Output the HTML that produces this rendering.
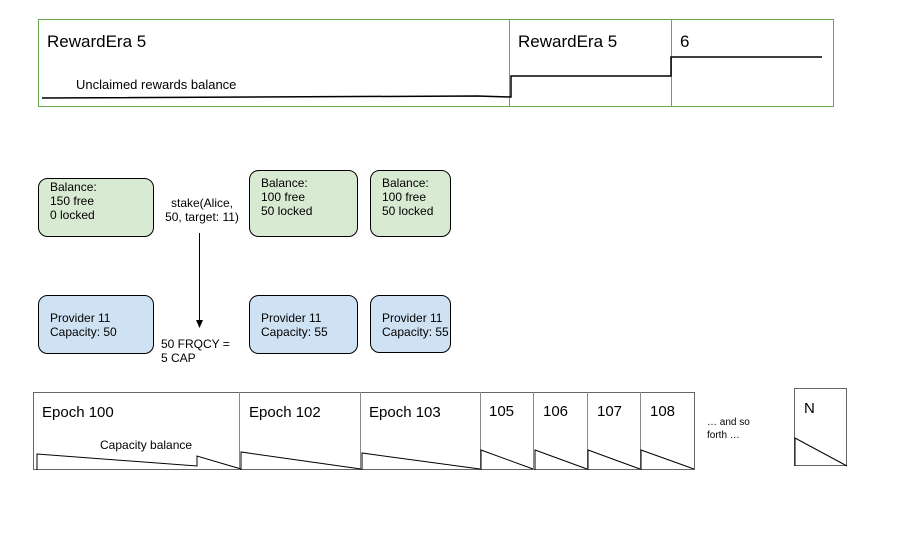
<!DOCTYPE html>
<html><head><meta charset="utf-8"><style>
body{margin:0;background:#fff;width:923px;height:543px;overflow:hidden}
svg text{font-family:"Liberation Sans",Arial,sans-serif;fill:#000}
</style></head><body>
<svg width="923" height="543" xmlns="http://www.w3.org/2000/svg">
<rect x="38.5" y="19.5" width="795" height="87" fill="#fff" stroke="#6aa84f" stroke-width="1"/>
<line x1="509.5" y1="19" x2="509.5" y2="106" stroke="#6aa84f"/>
<line x1="671.5" y1="19" x2="671.5" y2="106" stroke="#6aa84f"/>
<text x="47" y="47" font-size="17">RewardEra 5</text>
<text x="518" y="47" font-size="17">RewardEra 5</text>
<text x="680" y="47" font-size="17">6</text>
<text x="76" y="89" font-size="13">Unclaimed rewards balance</text>
<polyline points="42,98 477,96 511,97 511,76 671,76 671,57 822,57" fill="none" stroke="#000" stroke-width="1.5"/>
<g stroke="#000" stroke-width="1">
<rect x="38.5" y="178.5" width="115" height="58" rx="9" fill="#d9ead3"/>
<rect x="249.5" y="170.5" width="108" height="66" rx="9" fill="#d9ead3"/>
<rect x="370.5" y="170.5" width="80" height="66" rx="9" fill="#d9ead3"/>
<rect x="38.5" y="295.5" width="115" height="58" rx="9" fill="#cfe2f3"/>
<rect x="249.5" y="295.5" width="108" height="58" rx="9" fill="#cfe2f3"/>
<rect x="370.5" y="295.5" width="80" height="57" rx="9" fill="#cfe2f3"/>
</g>
<g font-size="12">
<text x="50" y="191">Balance:</text><text x="50" y="205">150 free</text><text x="50" y="219">0 locked</text>
<text x="261" y="187">Balance:</text><text x="261" y="201">100 free</text><text x="261" y="215">50 locked</text>
<text x="382" y="187">Balance:</text><text x="382" y="201">100 free</text><text x="382" y="215">50 locked</text>
<text x="50" y="322">Provider 11</text><text x="50" y="336">Capacity: 50</text>
<text x="261" y="322">Provider 11</text><text x="261" y="336">Capacity: 55</text>
<text x="382" y="322">Provider 11</text><text x="382" y="336">Capacity: 55</text>
<text x="202" y="207" text-anchor="middle">stake(Alice,</text>
<text x="202" y="221" text-anchor="middle">50, target: 11)</text>
<text x="161" y="348">50 FRQCY =</text><text x="161" y="362">5 CAP</text>
</g>
<line x1="199.5" y1="233" x2="199.5" y2="321" stroke="#000" stroke-width="1"/>
<path d="M196,320 L203,320 L199.5,328 z" fill="#000"/>
<rect x="33.5" y="392.5" width="661" height="77" fill="#fff" stroke="#666" stroke-width="1"/>
<g stroke="#888"><line x1="239.5" y1="392" x2="239.5" y2="470"/><line x1="360.5" y1="392" x2="360.5" y2="470"/><line x1="480.5" y1="392" x2="480.5" y2="470"/><line x1="533.5" y1="392" x2="533.5" y2="470"/><line x1="587.5" y1="392" x2="587.5" y2="470"/><line x1="640.5" y1="392" x2="640.5" y2="470"/></g>
<rect x="794.5" y="388.5" width="52" height="77" fill="#fff" stroke="#666"/>
<g font-size="15">
<text x="42" y="417">Epoch 100</text><text x="249" y="417">Epoch 102</text><text x="369" y="417">Epoch 103</text>
<text x="489" y="416">105</text><text x="543" y="416">106</text><text x="597" y="416">107</text><text x="650" y="416">108</text>
<text x="804" y="413">N</text>
</g>
<text x="100" y="449" font-size="12">Capacity balance</text>
<text x="707" y="425" font-size="10">… and so</text><text x="707" y="438" font-size="10">forth …</text>
<g fill="none" stroke="#000" stroke-width="1">
<polyline points="37,470 37,454 197,466 197,456 241,469"/>
<polyline points="241,470 241,452 361,469"/>
<polyline points="362,470 362,453 480,469"/>
<polyline points="481,470 481,450 533,469"/>
<polyline points="535,470 535,450 587,469"/>
<polyline points="588,470 588,450 640,469"/>
<polyline points="641,470 641,450 694,469"/>
<polyline points="795,466 795,438 847,466"/>
</g>
</svg>
</body></html>
